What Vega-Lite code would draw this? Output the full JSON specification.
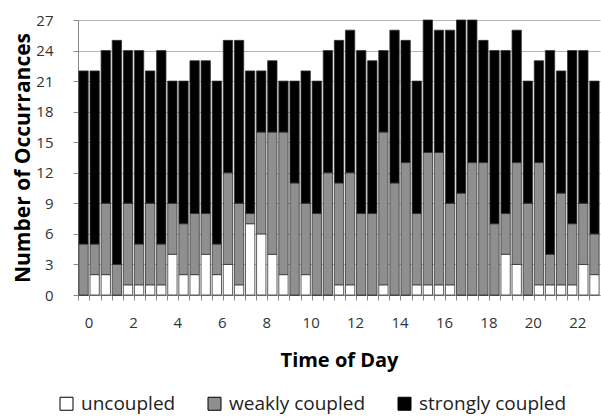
{
  "$schema": "https://vega.github.io/schema/vega-lite/v6.json",
  "width": 522,
  "height": 275,
  "autosize": {"type": "none"},
  "padding": {"left": 78, "top": 20, "right": 1, "bottom": 123},
  "background": "white",
  "config": {"view": {"stroke": null}, "font": "Open Sans"},
  "datasets": {
    "ranks": [
      {"key": "uncoupled", "rank": 0},
      {"key": "weakly coupled", "rank": 1},
      {"key": "strongly coupled", "rank": 2}
    ]
  },
  "data": {
    "values": [
      {"t": 0, "uncoupled": 0, "weakly coupled": 5, "strongly coupled": 17},
      {"t": 0.5, "uncoupled": 2, "weakly coupled": 3, "strongly coupled": 17},
      {"t": 1, "uncoupled": 2, "weakly coupled": 7, "strongly coupled": 15},
      {"t": 1.5, "uncoupled": 0, "weakly coupled": 3, "strongly coupled": 22},
      {"t": 2, "uncoupled": 1, "weakly coupled": 8, "strongly coupled": 15},
      {"t": 2.5, "uncoupled": 1, "weakly coupled": 4, "strongly coupled": 19},
      {"t": 3, "uncoupled": 1, "weakly coupled": 8, "strongly coupled": 13},
      {"t": 3.5, "uncoupled": 1, "weakly coupled": 4, "strongly coupled": 19},
      {"t": 4, "uncoupled": 4, "weakly coupled": 5, "strongly coupled": 12},
      {"t": 4.5, "uncoupled": 2, "weakly coupled": 5, "strongly coupled": 14},
      {"t": 5, "uncoupled": 2, "weakly coupled": 6, "strongly coupled": 15},
      {"t": 5.5, "uncoupled": 4, "weakly coupled": 4, "strongly coupled": 15},
      {"t": 6, "uncoupled": 2, "weakly coupled": 3, "strongly coupled": 16},
      {"t": 6.5, "uncoupled": 3, "weakly coupled": 9, "strongly coupled": 13},
      {"t": 7, "uncoupled": 1, "weakly coupled": 8, "strongly coupled": 16},
      {"t": 7.5, "uncoupled": 7, "weakly coupled": 1, "strongly coupled": 14},
      {"t": 8, "uncoupled": 6, "weakly coupled": 10, "strongly coupled": 6},
      {"t": 8.5, "uncoupled": 4, "weakly coupled": 12, "strongly coupled": 7},
      {"t": 9, "uncoupled": 2, "weakly coupled": 14, "strongly coupled": 5},
      {"t": 9.5, "uncoupled": 0, "weakly coupled": 11, "strongly coupled": 10},
      {"t": 10, "uncoupled": 2, "weakly coupled": 7, "strongly coupled": 13},
      {"t": 10.5, "uncoupled": 0, "weakly coupled": 8, "strongly coupled": 13},
      {"t": 11, "uncoupled": 0, "weakly coupled": 12, "strongly coupled": 12},
      {"t": 11.5, "uncoupled": 1, "weakly coupled": 10, "strongly coupled": 14},
      {"t": 12, "uncoupled": 1, "weakly coupled": 11, "strongly coupled": 14},
      {"t": 12.5, "uncoupled": 0, "weakly coupled": 8, "strongly coupled": 16},
      {"t": 13, "uncoupled": 0, "weakly coupled": 8, "strongly coupled": 15},
      {"t": 13.5, "uncoupled": 1, "weakly coupled": 15, "strongly coupled": 8},
      {"t": 14, "uncoupled": 0, "weakly coupled": 11, "strongly coupled": 15},
      {"t": 14.5, "uncoupled": 0, "weakly coupled": 13, "strongly coupled": 12},
      {"t": 15, "uncoupled": 1, "weakly coupled": 7, "strongly coupled": 13},
      {"t": 15.5, "uncoupled": 1, "weakly coupled": 13, "strongly coupled": 13},
      {"t": 16, "uncoupled": 1, "weakly coupled": 13, "strongly coupled": 12},
      {"t": 16.5, "uncoupled": 1, "weakly coupled": 8, "strongly coupled": 17},
      {"t": 17, "uncoupled": 0, "weakly coupled": 10, "strongly coupled": 17},
      {"t": 17.5, "uncoupled": 0, "weakly coupled": 13, "strongly coupled": 14},
      {"t": 18, "uncoupled": 0, "weakly coupled": 13, "strongly coupled": 12},
      {"t": 18.5, "uncoupled": 0, "weakly coupled": 7, "strongly coupled": 17},
      {"t": 19, "uncoupled": 4, "weakly coupled": 4, "strongly coupled": 16},
      {"t": 19.5, "uncoupled": 3, "weakly coupled": 10, "strongly coupled": 13},
      {"t": 20, "uncoupled": 0, "weakly coupled": 9, "strongly coupled": 12},
      {"t": 20.5, "uncoupled": 1, "weakly coupled": 12, "strongly coupled": 10},
      {"t": 21, "uncoupled": 1, "weakly coupled": 3, "strongly coupled": 20},
      {"t": 21.5, "uncoupled": 1, "weakly coupled": 9, "strongly coupled": 12},
      {"t": 22, "uncoupled": 1, "weakly coupled": 6, "strongly coupled": 17},
      {"t": 22.5, "uncoupled": 3, "weakly coupled": 6, "strongly coupled": 15},
      {"t": 23, "uncoupled": 2, "weakly coupled": 4, "strongly coupled": 15}
    ]
  },
  "transform": [
    {"fold": ["uncoupled", "weakly coupled", "strongly coupled"], "as": ["key", "value"]},
    {"lookup": "key", "from": {"data": {"name": "ranks"}, "key": "key", "fields": ["rank"]}}
  ],
  "mark": {"type": "bar", "stroke": "#333333", "strokeWidth": 0.8},
  "encoding": {
    "x": {
      "field": "t",
      "type": "ordinal",
      "scale": {"paddingInner": 0.16, "paddingOuter": 0.08},
      "axis": {
        "title": "Time of Day",
        "titleFont": "Open Sans",
        "titleFontSize": 20,
        "titleFontWeight": "bold",
        "titleColor": "#000000",
        "titlePadding": 20,
        "labelAngle": 0,
        "labelExpr": "datum.value % 2 === 0 ? datum.label : ''",
        "labelFont": "Open Sans",
        "labelFontSize": 15,
        "labelColor": "#333333",
        "labelPadding": 15,
        "labelOffset": 5.5,
        "bandPosition": 0,
        "domainColor": "#888888",
        "tickColor": "#888888",
        "tickSize": 5,
        "grid": false
      }
    },
    "y": {
      "field": "value",
      "type": "quantitative",
      "stack": "zero",
      "scale": {"domain": [0, 27], "nice": false},
      "axis": {
        "title": "Number of Occurrances",
        "titleFont": "Open Sans",
        "titleFontSize": 21,
        "titleFontWeight": "bold",
        "titleColor": "#000000",
        "titlePadding": 2,
        "values": [0, 3, 6, 9, 12, 15, 18, 21, 24, 27],
        "labelFont": "Open Sans",
        "labelFontSize": 15,
        "labelColor": "#333333",
        "labelPadding": 20,
        "domainColor": "#888888",
        "tickColor": "#888888",
        "tickSize": 5,
        "grid": true,
        "gridColor": "#b5b5b5",
        "gridWidth": 1
      }
    },
    "color": {
      "field": "key",
      "type": "nominal",
      "scale": {
        "domain": ["uncoupled", "weakly coupled", "strongly coupled"],
        "range": ["#ffffff", "#8f8f8f", "#000000"]
      },
      "legend": {
        "title": null,
        "orient": "none",
        "legendX": -21,
        "legendY": 374,
        "direction": "horizontal",
        "columnPadding": 29,
        "symbolType": "square",
        "symbolSize": 169,
        "symbolStrokeColor": "#000000",
        "symbolStrokeWidth": 1,
        "labelFont": "Open Sans",
        "labelFontSize": 19,
        "labelColor": "#222222",
        "labelOffset": 5
      }
    },
    "order": {"field": "rank", "type": "quantitative"}
  }
}
